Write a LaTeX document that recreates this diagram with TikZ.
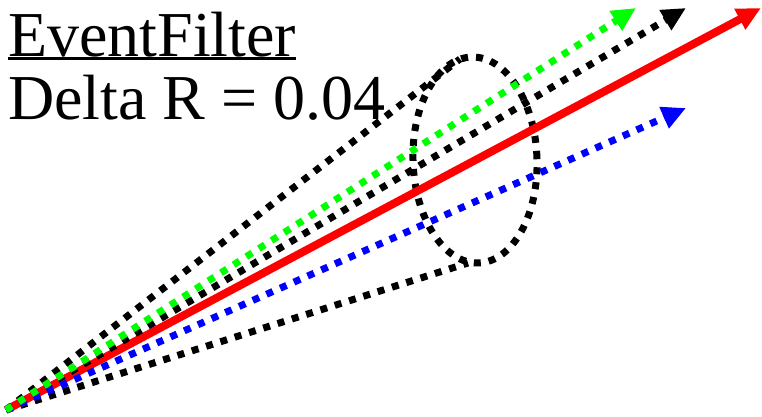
\documentclass[tikz,border=0pt]{standalone}
\usepackage{fontspec}
\setmainfont{Liberation Serif}
\usetikzlibrary{arrows.meta}
\definecolor{jetred}{RGB}{255,0,0}
\definecolor{jetgreen}{RGB}{0,255,0}
\definecolor{jetblue}{RGB}{0,0,255}

\begin{document}
\begin{tikzpicture}[x=1pt,y=1pt,
  dotjet/.style={line width=7pt,dash pattern=on 7pt off 8pt},
  jettip/.style={-{Triangle[length=24pt,width=22pt]}},
  lbl/.style={anchor=base west,inner sep=0pt,font=\fontsize{64}{70}\selectfont}]
\useasboundingbox (0,0) rectangle (762,417);
% labels
\node[lbl] (title) at (8,360) {EventFilter};
\draw[line width=2.5pt] ([yshift=-1.5pt]title.base west) -- ([yshift=-1.5pt]title.base east);
\node[lbl] (cut) at (8,297) {Delta R = 0.04};
% vertex and arrow tips
\coordinate (o) at (6,7);
\coordinate (redend) at (761,409);
\coordinate (blackend) at (686,409);
\coordinate (greenend) at (636,409);
\coordinate (blueend) at (686,309);
\coordinate (conetop) at (460,358);
\coordinate (conebot) at (468,154);
% cone
\draw[dotjet] (o) -- (conetop);
\draw[dotjet] (o) -- (conebot);
\draw[dotjet,rotate around={2:(475,257)}] (475,257) ellipse [x radius=62pt,y radius=103pt];
% jets
\draw[jetred,line width=8pt,jettip] (o) -- (redend);
\draw[black,dotjet,jettip] (o) -- (blackend);
\draw[jetblue,dotjet,jettip] (o) -- (blueend);
\draw[jetgreen,dotjet,jettip] (o) -- (greenend);
\end{tikzpicture}
\end{document}
